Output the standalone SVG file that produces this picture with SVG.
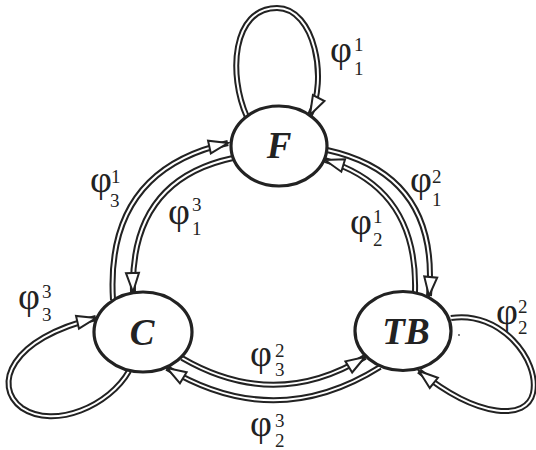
<svg xmlns="http://www.w3.org/2000/svg" width="536" height="450" viewBox="0 0 536 450">
<style>
.o{fill:none;stroke:#222;stroke-width:6}
.i{fill:none;stroke:#fff;stroke-width:2}
.node ellipse{fill:#fff;stroke:#222;stroke-width:3.2}
.node text{font-family:"Liberation Serif",serif;font-weight:bold;font-style:italic;font-size:37px;fill:#222;text-anchor:middle}
.lbl{font-family:"Liberation Serif",serif;fill:#222}
.phi{font-size:38px}
.ix{font-size:19px}
</style>
<defs>
<marker id="ah" viewBox="-22 -9 24 18" refX="0" refY="0" markerWidth="24" markerHeight="18" markerUnits="userSpaceOnUse" orient="auto" overflow="visible">
<polygon points="0,0 -19,-6.5 -19,6.5" fill="#fff" stroke="#222" stroke-width="2" stroke-linejoin="miter"/>
</marker>
</defs>
<g id="connectors">
<path class="o" d="M247 117 C228 75 232 8 277 8 C315 8 328 80 310 115"/>
<path class="i" d="M247 117 C228 75 232 8 277 8 C315 8 328 80 310 115" marker-end="url(#ah)"/>
<path class="o" d="M129 371 C110 405 55 430 22 408 C-8 386 10 338 96 318"/>
<path class="i" d="M129 371 C110 405 55 430 22 408 C-8 386 10 338 96 318" marker-end="url(#ah)"/>
<path class="o" d="M451 318 C500 310 540 360 533 393 C527 420 480 420 419 371"/>
<path class="i" d="M451 318 C500 310 540 360 533 393 C527 420 480 420 419 371" marker-end="url(#ah)"/>
<path class="o" d="M113 300 Q105 170 228 143"/>
<path class="i" d="M113 300 Q105 170 228 143" marker-end="url(#ah)"/>
<path class="o" d="M233 158 Q130 180 133 292"/>
<path class="i" d="M233 158 Q130 180 133 292" marker-end="url(#ah)"/>
<path class="o" d="M327 150 Q440 175 429 296"/>
<path class="i" d="M327 150 Q440 175 429 296" marker-end="url(#ah)"/>
<path class="o" d="M415 292 Q418 188 325 160"/>
<path class="i" d="M415 292 Q418 188 325 160" marker-end="url(#ah)"/>
<path class="o" d="M182 358 Q275 412 365 357"/>
<path class="i" d="M182 358 Q275 412 365 357" marker-end="url(#ah)"/>
<path class="o" d="M380 367 Q275 433 167 368"/>
<path class="i" d="M380 367 Q275 433 167 368" marker-end="url(#ah)"/>
</g>
<g id="F" class="node"><ellipse cx="279" cy="146" rx="48" ry="40"/><text x="279" y="158">F</text></g>
<g id="C" class="node"><ellipse cx="143" cy="332" rx="49" ry="40"/><text x="142" y="345">C</text></g>
<g id="TB" class="node"><ellipse cx="403" cy="331" rx="48" ry="39.5"/><text x="406" y="344">TB</text></g>
<circle cx="459" cy="335" r="0.9" fill="#444"/>
<g id="labels" class="lbl">
<text><tspan class="phi" x="330" y="62">φ</tspan><tspan class="ix" x="354" y="51">1</tspan><tspan class="ix" x="354" y="75">1</tspan></text>
<text><tspan class="phi" x="90" y="192">φ</tspan><tspan class="ix" x="111" y="183">1</tspan><tspan class="ix" x="110" y="207">3</tspan></text>
<text><tspan class="phi" x="168" y="224">φ</tspan><tspan class="ix" x="192" y="211">3</tspan><tspan class="ix" x="192" y="235">1</tspan></text>
<text><tspan class="phi" x="410" y="192">φ</tspan><tspan class="ix" x="432" y="183">2</tspan><tspan class="ix" x="432" y="206">1</tspan></text>
<text><tspan class="phi" x="350" y="234">φ</tspan><tspan class="ix" x="373" y="223">1</tspan><tspan class="ix" x="373" y="246">2</tspan></text>
<text><tspan class="phi" x="18" y="309">φ</tspan><tspan class="ix" x="42" y="298">3</tspan><tspan class="ix" x="42" y="321">3</tspan></text>
<text><tspan class="phi" x="496" y="324">φ</tspan><tspan class="ix" x="518" y="313">2</tspan><tspan class="ix" x="518" y="334">2</tspan></text>
<text><tspan class="phi" x="250" y="366">φ</tspan><tspan class="ix" x="275" y="357">2</tspan><tspan class="ix" x="275" y="376">3</tspan></text>
<text><tspan class="phi" x="250" y="436">φ</tspan><tspan class="ix" x="275" y="427">3</tspan><tspan class="ix" x="275" y="447">2</tspan></text>
</g>
</svg>
